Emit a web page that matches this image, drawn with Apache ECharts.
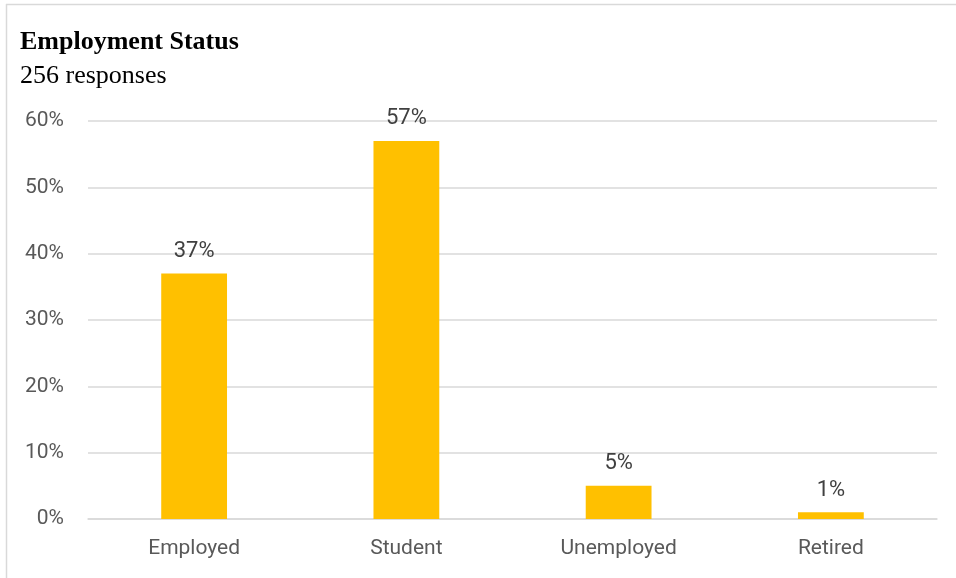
<!DOCTYPE html>
<html>
<head>
<meta charset="utf-8">
<script src="https://cdn.jsdelivr.net/npm/echarts@6/dist/echarts.min.js"></script>
<style>
  html, body { margin: 0; padding: 0; background: #fff; }
  #chart { width: 956px; height: 578px; }
</style>
</head>
<body>
<div id="chart"></div>
<script>
// Employment status of survey respondents (share of 256 responses)
const categories = ['Employed', 'Student', 'Unemployed', 'Retired'];
const shares = [37, 57, 5, 1];
const yTicks = [0, 10, 20, 30, 40, 50, 60];

const chart = echarts.init(document.getElementById('chart'), null, { renderer: 'canvas' });

const sansFont = 'Roboto, "Noto Sans", sans-serif';
const serifFont = '"Liberation Serif", "DejaVu Serif", serif';

chart.setOption({
  animation: false,
  backgroundColor: '#ffffff',
  title: {
    text: 'Employment Status',
    subtext: '256 responses',
    left: 15,
    top: 24,
    itemGap: 8,
    textStyle: { fontFamily: serifFont, fontWeight: 'bold', fontSize: 26, color: '#000000' },
    subtextStyle: { fontFamily: serifFont, fontSize: 26, color: '#000000' }
  },
  graphic: [
    { type: 'line', shape: { x1: 6, y1: 4.5, x2: 956, y2: 4.5 }, style: { stroke: '#d9d9d9', lineWidth: 1.5 } },
    { type: 'line', shape: { x1: 6.5, y1: 4, x2: 6.5, y2: 578 }, style: { stroke: '#d9d9d9', lineWidth: 1.5 } }
  ],
  grid: { left: 88, right: 19, top: 121, bottom: 59, containLabel: false },
  xAxis: {
    type: 'category',
    data: categories,
    axisLine: { show: true, lineStyle: { color: '#d9d9d9', width: 1.5 } },
    axisTick: { show: false },
    axisLabel: { color: '#595959', fontFamily: sansFont, fontSize: 21, margin: 19 }
  },
  yAxis: {
    type: 'value',
    min: yTicks[0],
    max: yTicks[yTicks.length - 1],
    interval: yTicks[1] - yTicks[0],
    axisLine: { show: false },
    axisTick: { show: false },
    splitLine: { lineStyle: { color: '#d9d9d9', width: 1.5 } },
    axisLabel: {
      color: '#595959', fontFamily: sansFont, fontSize: 21, margin: 24,
      formatter: v => v + '%'
    }
  },
  series: [{
    type: 'bar',
    data: shares,
    barWidth: '31%',
    itemStyle: { color: '#FFC000' },
    label: {
      show: true,
      position: 'top',
      distance: 11,
      color: '#404040',
      fontFamily: sansFont,
      fontSize: 22,
      formatter: p => p.value + '%'
    }
  }]
});
</script>
</body>
</html>
